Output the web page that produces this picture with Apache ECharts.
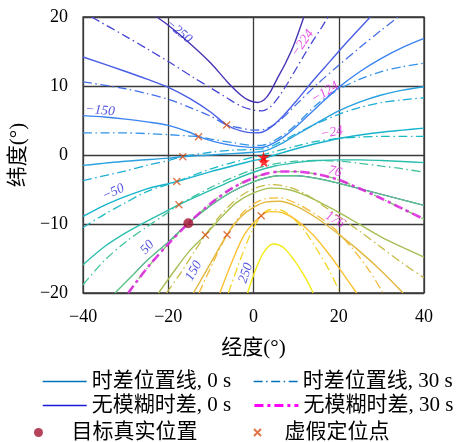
<!DOCTYPE html>
<html>
<head>
<meta charset="utf-8">
<script src="https://cdn.jsdelivr.net/npm/echarts@6/dist/echarts.min.js"></script>
<style>
  html, body { margin: 0; padding: 0; background: #fff; }
  #chart { width: 462px; height: 442px; }
</style>
</head>
<body>
<div id="chart"></div>
<script>
// Axis ticks (degrees)
const lonTicks = [-40, -20, 0, 20, 40];
const latTicks = [-20, -10, 0, 10, 20];

// TDOA position lines at t = 0 s, [lon, lat]
const tdoa0_m250 = [[-22.7,20],[-20,18.8],[-15,16.2],[-10,13.3],[-6.3,10.7],[-3,8.7],[-1,7.9],[1,7.6],[2.5,8.0],[3.8,9.0],[5.5,11.0],[7.5,13.3],[9.5,16.0],[11.8,20]];
const tdoa0_m200 = [[-40,14.2],[-30,12.1],[-25,11.0],[-19.6,9.7],[-15,8.2],[-10,6.2],[-6.3,4.35],[-3,3.5],[0,3.2],[2,3.3],[4,4.0],[7,5.7],[10,7.8],[14,10.8],[18,13.6],[22,16.4],[27.4,20]];
const tdoa0_m150 = [[-40,5.7],[-35,5.5],[-30,5.2],[-25,4.8],[-20,4.3],[-15,3.3],[-12.9,2.65],[-9,1.9],[-5,1.4],[0,1.1],[2,1.1],[4,1.5],[7,2.6],[10,4.1],[15,7.0],[20,9.8],[25,12.1],[30,14.0],[35,15.6],[40,16.9]];
const tdoa0_m100 = [[-40,-1.5],[-30,-0.9],[-20,-0.45],[-16.6,-0.25],[-10,0.0],[-5,0.2],[0,0.4],[2,0.5],[4,0.9],[7,1.8],[10,2.9],[15,4.7],[20,6.4],[25,7.7],[30,8.7],[35,9.4],[40,9.9]];
const tdoa0_m50  = [[-40,-8.9],[-35,-7.3],[-30,-6.0],[-25,-4.9],[-18,-3.85],[-10,-2.4],[-5,-1.6],[0,-0.8],[2.5,-0.5],[5,0.0],[10,0.9],[15,1.7],[20,2.4],[25,2.9],[30,3.3],[35,3.6],[40,3.9]];
const tdoa0_0    = [[-40,-15.9],[-35,-13.3],[-30,-11.3],[-25,-9.6],[-20,-8.0],[-17.5,-7.2],[-10,-5.1],[-5,-3.7],[0,-2.5],[5,-1.6],[10,-1.1],[15,-0.8],[20,-0.7],[25,-0.7],[30,-0.8],[35,-0.95],[40,-1.1]];
const tdoa0_50   = [[-32.5,-20],[-28,-17.2],[-25,-15.3],[-20,-12.6],[-15.3,-9.9],[-10,-7.3],[-5,-5.3],[0,-3.9],[3,-3.3],[6,-3.0],[10,-3.0],[15,-3.4],[20,-4.1],[25,-4.9],[30,-5.7],[35,-6.5],[40,-7.3]];
const tdoa0_100  = [[-22.3,-20],[-18,-16.3],[-15,-13.9],[-11.3,-11.6],[-8,-9.3],[-4,-6.9],[0,-5.5],[4,-4.8],[8,-5.0],[12,-5.8],[16,-7.0],[20,-8.3],[25,-10.1],[30,-11.9],[35,-13.4],[40,-14.8]];
const tdoa0_150  = [[-14.1,-20],[-10,-15.6],[-6.2,-11.55],[-3,-9.0],[0,-7.6],[3,-6.8],[6,-6.7],[10,-7.4],[15,-9.2],[20,-11.5],[25,-14.0],[30,-16.8],[35.1,-20]];
const tdoa0_200  = [[-7.9,-20],[-5,-15.4],[-2,-11.4],[1.8,-8.8],[4,-8.2],[7,-8.4],[10,-9.4],[14,-11.6],[18,-14.6],[21,-17.2],[24.2,-20]];
const tdoa0_250  = [[-1.4,-20],[0.5,-16.6],[2.5,-14.0],[4.7,-12.9],[7,-13.4],[9.5,-15.2],[12,-17.6],[14,-20]];

// TDOA position lines at t = 30 s, [lon, lat]
const tdoa30_m224 = [[-38,20],[-30,17.2],[-25,15.4],[-19.6,13.4],[-14,11.2],[-10,9.7],[-6.3,8.3],[-3,7.1],[0,6.5],[2,6.4],[4,7.0],[6,8.5],[8,10.4],[10,12.5],[12,14.6],[14,16.6],[16,18.5],[17.5,20]];
const tdoa30_m174 = [[-40,10.6],[-30,9.6],[-25,8.9],[-19.6,8.0],[-15,6.9],[-10,5.6],[-6.3,4.35],[-3,3.9],[0,3.6],[3,3.8],[6,4.9],[10,7.3],[15,10.3],[20,13.0],[25,15.6],[30,18.1],[33.9,20]];
const tdoa30_m124 = [[-40,3.2],[-30,3.2],[-25,3.1],[-20,2.95],[-15,2.75],[-12.9,2.65],[-9,2.2],[-5,1.8],[0,1.4],[2,1.4],[4,1.8],[7,2.9],[10,4.4],[15,7.4],[20,9.5],[25,11.0],[30,12.1],[35,12.8],[40,13.3]];
const tdoa30_m74  = [[-40,-3.7],[-30,-2.3],[-25,-1.5],[-20,-0.8],[-16.6,-0.25],[-10,0.4],[-5,0.7],[0,0.8],[2,0.9],[4,1.2],[7,2.1],[10,3.1],[15,4.6],[20,5.9],[25,6.9],[30,7.6],[35,8.0],[40,8.3]];
const tdoa30_m24  = [[-40,-10.5],[-35,-8.6],[-30,-6.9],[-25,-5.3],[-18,-3.85],[-10,-2.0],[-5,-1.1],[0,-0.3],[2.5,0.1],[5,0.5],[10,1.3],[15,2.0],[20,2.4],[25,2.6],[30,2.7],[35,2.7],[40,2.7]];
const tdoa30_26   = [[-40,-18.8],[-35,-15.3],[-30,-12.6],[-25,-10.4],[-20,-8.3],[-17.5,-7.2],[-10,-4.7],[-5,-3.3],[0,-2.1],[5,-1.3],[10,-0.9],[15,-0.8],[20,-0.9],[25,-1.2],[30,-1.6],[35,-2.0],[40,-2.5]];
const tdoa30_76   = [[-29.4,-20],[-25,-16.4],[-20,-12.9],[-15.3,-9.9],[-10,-7.0],[-5,-4.8],[0,-3.3],[3,-2.7],[6,-2.4],[10,-2.4],[15,-2.8],[20,-3.6],[25,-4.9],[30,-6.3],[35,-7.8],[40,-9.3]];
const tdoa30_126  = [[-20.4,-20],[-17,-17],[-14,-14.1],[-11.3,-11.6],[-8,-8.9],[-4,-6.4],[0,-4.9],[4,-4.3],[8,-4.6],[12,-5.6],[16,-7.2],[20,-8.9],[25,-11.1],[30,-13.4],[35,-15.7],[40,-17.8]];
const tdoa30_176  = [[-12.8,-20],[-9.5,-15.6],[-6.2,-11.55],[-3,-8.7],[0,-7.1],[3,-6.3],[6,-6.2],[10,-7.0],[15,-8.8],[19,-10.7],[23,-13.4],[27,-16.6],[30.4,-20]];
const tdoa30_226  = [[-5.9,-20],[-3,-15.0],[-0.5,-11.2],[1.8,-8.8],[4,-7.9],[6.5,-8.0],[9,-9.0],[12,-11.0],[15,-13.8],[18,-17.0],[20.3,-20]];

// Point sets
const truePos   = [[-15.3, -9.9]];
const falseFix  = [[-6.3,4.35],[-12.9,2.65],[-16.6,-0.25],[-18,-3.85],[-17.5,-7.2],[-11.3,-11.6],[-6.2,-11.55],[1.8,-8.8]];
const starPts   = [[2.35,-0.3],[2.45,-0.95]];

// Contour label values and where they sit
const label0Vals  = [-250, -150, -50, 50, 150, 250];
const label0At    = [[-17.5,17.9],[-36,6.45],[-32.9,-5.4],[-24.9,-13.4],[-14,-16.8],[-1.8,-17.1]];
const label30Vals = [-224, -124, -24, 76, 176];
const label30At   = [[11.5,16.2],[16.8,9.05],[18.35,3.26],[19.1,-2.4],[19.1,-9.4]];

// ---- styling ----
const SERIF = "'Liberation Serif', 'Noto Sans CJK SC', serif";
const label0Rot  = [-40, -5, 25, 48, 60, 72];
const label30Rot = [55, 32, 10, -15, -30];

const solidSet = [
  [tdoa0_m250, '#4535b5'], [tdoa0_m200, '#4a5ee6'], [tdoa0_m150, '#3b84f0'],
  [tdoa0_m100, '#29a1df'], [tdoa0_m50, '#17b4cc'], [tdoa0_0, '#2bbfae'],
  [tdoa0_50, '#5ec488'], [tdoa0_100, '#a6bf55'], [tdoa0_150, '#e2b83f'],
  [tdoa0_200, '#fbc231'], [tdoa0_250, '#f4ea16']
];
const dashSet = [
  [tdoa30_m224, '#4846d6'], [tdoa30_m174, '#456fea'], [tdoa30_m124, '#3293e8'],
  [tdoa30_m74, '#1eacd6'], [tdoa30_m24, '#1bbac0'], [tdoa30_26, '#40c39d'],
  [tdoa30_76, '#82c470'], [tdoa30_126, '#c7bb46'], [tdoa30_176, '#f4bb38'],
  [tdoa30_226, '#f5d526']
];
const DASHDOT = [9, 3.5, 1.5, 3.5];
const MAG_DASH = [9, 4, 3, 4];
const fmtNum = v => (v < 0 ? '\u2212' + Math.abs(v) : String(v));

const NAME_S0 = '时差位置线, 0 s';
const NAME_S30 = '时差位置线, 30 s';
const NAME_U0 = '无模糊时差, 0 s';
const NAME_U30 = '无模糊时差, 30 s';
const NAME_T = '目标真实位置';
const NAME_F = '虚假定位点';

const series = [];

// legend keys for the two contour families (they carry no points of their own)
series.push({ name: NAME_S0, type: 'line', data: [], symbol: 'none',
  itemStyle: { color: '#0072bd' }, lineStyle: { color: '#0072bd', width: 1.2 } });
series.push({ name: NAME_S30, type: 'line', data: [], symbol: 'none',
  itemStyle: { color: '#0072bd' }, lineStyle: { color: '#0072bd', width: 1.2, type: DASHDOT } });

// unambiguous line at 0 s (lies under the matching contour)
series.push({
  name: NAME_U0, type: 'line', data: tdoa0_50, smooth: 0.3, symbol: 'none',
  itemStyle: { color: '#1a1ad8' }, lineStyle: { color: '#1a1ad8', width: 1 }, z: 2, silent: true
});

dashSet.forEach(([pts, c], i) => series.push({
  name: 'td30_' + i, type: 'line', data: pts, smooth: 0.3, symbol: 'none',
  lineStyle: { color: c, width: 1.3, type: DASHDOT }, z: 3, silent: true
}));
solidSet.forEach(([pts, c], i) => series.push({
  name: 'td0_' + i, type: 'line', data: pts, smooth: 0.3, symbol: 'none',
  lineStyle: { color: c, width: 1.4 }, z: 4, silent: true
}));

// unambiguous line at 30 s
series.push({
  name: NAME_U30, type: 'line', data: tdoa30_76, smooth: 0.3, symbol: 'none',
  itemStyle: { color: '#ff00ff' },
  lineStyle: { color: '#e020e0', width: 2.6, type: MAG_DASH, opacity: 0.85 }, z: 5, silent: true
});

// contour labels
series.push({
  type: 'scatter', symbol: 'circle', symbolSize: 1, itemStyle: { color: 'rgba(0,0,0,0)' },
  data: label0At.map((p, i) => ({ value: p, label: { rotate: label0Rot[i] } })),
  label: { show: true, position: 'inside', formatter: p => fmtNum(label0Vals[p.dataIndex]),
           color: '#2626d6', fontFamily: SERIF, fontStyle: 'italic', fontSize: 13.5 },
  z: 8, silent: true
});
series.push({
  type: 'scatter', symbol: 'circle', symbolSize: 1, itemStyle: { color: 'rgba(0,0,0,0)' },
  data: label30At.map((p, i) => ({ value: p, label: { rotate: label30Rot[i] } })),
  label: { show: true, position: 'inside', formatter: p => fmtNum(label30Vals[p.dataIndex]),
           color: '#e022e0', fontFamily: SERIF, fontStyle: 'italic', fontSize: 13.5 },
  z: 8, silent: true
});

// markers
series.push({
  name: NAME_F, type: 'scatter', data: falseFix, symbol: 'path://M0,0L10,10M10,0L0,10',
  symbolSize: 7, itemStyle: { color: 'rgba(0,0,0,0)', borderColor: '#d95319', borderWidth: 1.3 }, z: 9, silent: true
});
series.push({
  name: NAME_T, type: 'scatter', data: truePos, symbol: 'circle', symbolSize: 10,
  itemStyle: { color: '#a2142f' }, z: 9, silent: true
});
series.push({
  type: 'scatter', data: starPts,
  symbol: 'path://M50,0L61,35L98,35L68,57L79,91L50,70L21,91L32,57L2,35L39,35Z',
  symbolSize: 12, itemStyle: { color: '#ff0000' }, z: 10, silent: true
});

const legendText = { fontFamily: SERIF, fontSize: 21, color: '#000' };
const noMarker = { color: 'rgba(0,0,0,0)', borderWidth: 0, opacity: 0 };
function oneLegend(item, left, top, extra) {
  return Object.assign({
    data: [item], left: left, top: top, orient: 'horizontal', padding: 0,
    itemWidth: 44, itemHeight: 14, selectedMode: false, textStyle: legendText
  }, extra || {});
}

const option = {
  animation: false,
  backgroundColor: '#fff',
  grid: { left: 83, top: 17, width: 341, height: 276, show: true, borderColor: '#333', borderWidth: 1.3, backgroundColor: '#fff' },
  xAxis: {
    type: 'value', min: lonTicks[0], max: lonTicks[lonTicks.length - 1], interval: lonTicks[1] - lonTicks[0],
    name: '经度(°)', nameLocation: 'middle', nameGap: 45,
    nameTextStyle: { fontFamily: SERIF, fontSize: 21, color: '#000' },
    axisLine: { show: false }, axisTick: { show: false },
    axisLabel: { formatter: fmtNum, fontFamily: SERIF, fontSize: 18, color: '#000', margin: 15 },
    splitLine: { show: true, lineStyle: { color: '#3a3a3a', width: 1.3 } }
  },
  yAxis: {
    type: 'value', min: latTicks[0], max: latTicks[latTicks.length - 1], interval: latTicks[1] - latTicks[0],
    name: '纬度(°)', nameLocation: 'middle', nameGap: 49, nameRotate: 90,
    nameTextStyle: { fontFamily: SERIF, fontSize: 21, color: '#000' },
    axisLine: { show: false }, axisTick: { show: false },
    axisLabel: { formatter: fmtNum, fontFamily: SERIF, fontSize: 18, color: '#000', margin: 15 },
    splitLine: { show: true, lineStyle: { color: '#3a3a3a', width: 1.3 } }
  },
  legend: [
    oneLegend({ name: NAME_S0, itemStyle: noMarker, lineStyle: { width: 1.3 } }, 42, 371),
    oneLegend({ name: NAME_S30, itemStyle: noMarker, lineStyle: { width: 1.3 } }, 253, 371),
    oneLegend({ name: NAME_U0, itemStyle: noMarker, lineStyle: { width: 1.5 } }, 42, 395),
    oneLegend({ name: NAME_U30, itemStyle: noMarker, lineStyle: { color: '#ff00ff', width: 2.8, opacity: 1 } }, 253, 395),
    oneLegend({ name: NAME_T, icon: 'circle' }, 34, 422, { itemWidth: 56, itemHeight: 9 }),
    oneLegend({ name: NAME_F }, 253, 422, { itemWidth: 44, itemHeight: 7 })
  ],
  series: series
};

const chart = echarts.init(document.getElementById('chart'), null, { renderer: 'canvas' });
chart.setOption(option);
</script>
</body>
</html>
